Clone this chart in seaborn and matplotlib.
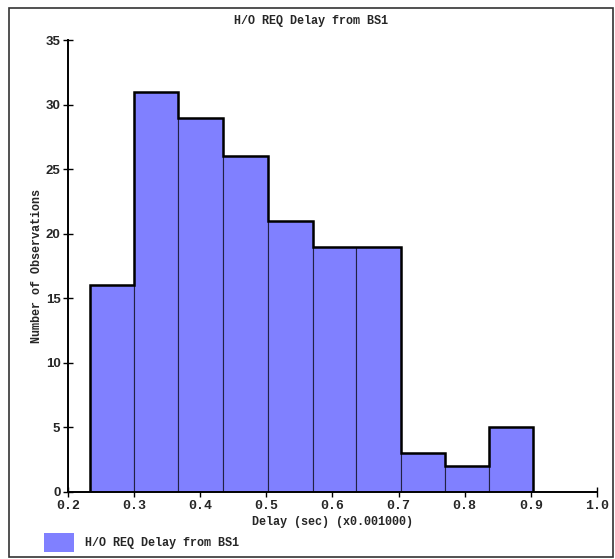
import numpy as np
import pandas as pd
import matplotlib
matplotlib.use("Agg")
import matplotlib.pyplot as plt
import seaborn as sns
from matplotlib.patches import Rectangle, Patch

# histogram
bin_edges = [0.233, 0.300, 0.367, 0.434, 0.503, 0.570, 0.636, 0.703, 0.770, 0.837, 0.904]
counts = [16, 31, 29, 26, 21, 19, 19, 3, 2, 5]
x_ticks = [0.2, 0.3, 0.4, 0.5, 0.6, 0.7, 0.8, 0.9, 1.0]
y_ticks = [0, 5, 10, 15, 20, 25, 30, 35]
series_name = "H/O REQ Delay from BS1"

sns.set_style("white")
plt.rcParams['font.family'] = ['Liberation Mono', 'DejaVu Sans Mono']
plt.rcParams['font.weight'] = 'bold'
plt.rcParams['axes.labelweight'] = 'bold'

edges = np.array(bin_edges)
centers = (edges[:-1] + edges[1:]) / 2
df = pd.DataFrame({"delay": centers, "n": counts})

fig = plt.figure(figsize=(6.15, 5.59), dpi=100)
ax = fig.add_axes([0.1106, 0.1199, 0.8600, 0.8085])

bar_color = "#8080ff"
sns.histplot(data=df, x="delay", weights="n", bins=list(bin_edges), stat="count",
             color=bar_color, alpha=1, edgecolor="#222244", linewidth=0.8, ax=ax)
# heavy outline along the top of the histogram
ax.stairs(counts, edges, color="black", linewidth=1.8, baseline=0)

ax.set_xlim(0.2, 1.0)
ax.set_ylim(0, 35)
ax.set_xticks(x_ticks)
ax.set_xticklabels([f"{t:.1f}" for t in x_ticks])
ax.set_yticks(y_ticks)
ax.tick_params(bottom=True, left=True, direction="inout", length=7, width=1,
               color="black", labelsize=9.5, pad=2)
for lab in ax.get_xticklabels() + ax.get_yticklabels():
    lab.set_fontweight('bold')
# y tick numbers look like a narrow sans in the reference
for lab in ax.get_yticklabels():
    lab.set_fontfamily(['Liberation Sans Narrow', 'Liberation Sans', 'DejaVu Sans'])

sns.despine(ax=ax)
for s in ["left", "bottom"]:
    ax.spines[s].set_linewidth(1.4)
    ax.spines[s].set_color("black")

ax.set_xlabel("Delay (sec) (x0.001000)", fontsize=8.5, labelpad=3)
ax.set_ylabel("Number of Observations", fontsize=8.5)
ax.yaxis.set_label_coords(-0.047, 0.5)
fig.text(0.505, 0.962, series_name, ha="center", va="center", fontsize=8.5, fontweight="bold")

leg = fig.legend(handles=[Patch(facecolor=bar_color, edgecolor="none", label=series_name)],
                 loc="lower left", bbox_to_anchor=(0.055, -0.007), frameon=False,
                 fontsize=8.5, handlelength=2.5, handleheight=2.2, handletextpad=0.9)

# frame around the whole picture
fig.patches.append(Rectangle((0.014, 0.004), 0.982, 0.982, transform=fig.transFigure,
                             fill=False, edgecolor="#333333", linewidth=1.2))

fig.savefig("out.png", dpi=100)
